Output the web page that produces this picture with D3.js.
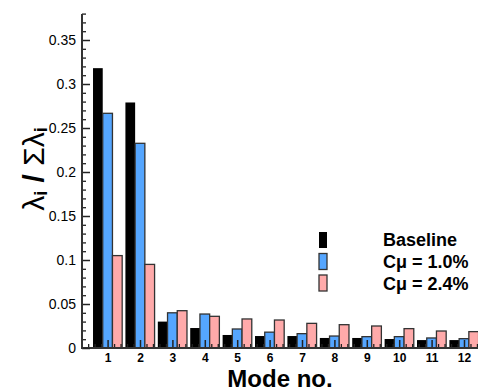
<!DOCTYPE html>
<html>
<head>
<meta charset="utf-8">
<script src="https://cdn.jsdelivr.net/npm/d3@7"></script>
<style>
  body { margin: 0; background: #fff; }
  text { font-family: "Liberation Sans", Arial, sans-serif; }
</style>
</head>
<body>
<div class="chart"></div>
<script>
const modes = [1, 2, 3, 4, 5, 6, 7, 8, 9, 10, 11, 12];
const baseline = [0.318, 0.279, 0.030, 0.0227, 0.0148, 0.0136, 0.0136, 0.0114, 0.0114, 0.0102, 0.009, 0.009];
const cmu10 = [0.2667, 0.2326, 0.040, 0.0386, 0.0216, 0.018, 0.0163, 0.0136, 0.0129, 0.0129, 0.0114, 0.0106];
const cmu24 = [0.105, 0.095, 0.0424, 0.036, 0.033, 0.0318, 0.028, 0.0265, 0.025, 0.022, 0.0193, 0.0186];
const seriesNames = ['Baseline', 'C\u03bc = 1.0%', 'C\u03bc = 2.4%'];
const colors = ['#000000', '#55a6ff', '#ffaaaa'];
const yTicks = [0, 0.05, 0.1, 0.15, 0.2, 0.25, 0.3, 0.35];

const series = [baseline, cmu10, cmu24];

const width = 478, height = 392;
const mLeft = 82, mBottom = 348, mTop = 14;

const svg = d3.select('.chart').append('svg')
    .attr('width', width)
    .attr('height', height);

const x = d3.scaleLinear()
    .domain([0.21, 12.5])
    .range([mLeft, mLeft + 12.29 * 32.4]);

const y = d3.scaleLinear()
    .domain([0, 0.38])
    .range([mBottom, mBottom - 0.38 * 880]);

const bw = 32.4 * 0.3;

// bars
series.forEach((vals, s) => {
    svg.append('g').selectAll('rect')
        .data(vals)
        .enter()
        .append('rect')
        .attr('x', (d, i) => x(modes[i]) - 1.5 * bw + s * bw)
        .attr('y', d => y(d))
        .attr('width', bw)
        .attr('height', d => y(0) - y(d))
        .attr('fill', colors[s])
        .attr('stroke', s === 0 ? 'none' : '#333')
        .attr('stroke-width', 1.3);
});

// x axis: major + minor ticks pointing up
const xMinor = d3.range(0.4, 12.5, 0.2).filter(v => Math.abs(v - Math.round(v)) > 0.01);
svg.append('g')
    .attr('transform', `translate(0,${mBottom})`)
    .call(d3.axisTop(x).tickValues(xMinor).tickSize(4).tickFormat('').tickSizeOuter(0))
    .call(g => g.select('.domain').remove())
    .call(g => g.selectAll('line').attr('stroke', '#222').attr('stroke-width', 1.3));

const xAxis = svg.append('g')
    .attr('transform', `translate(0,${mBottom})`)
    .call(d3.axisTop(x).tickValues(modes).tickSize(8).tickSizeOuter(0).tickFormat(d3.format('d')))
    .call(g => g.select('.domain').remove())
    .call(g => g.selectAll('line').attr('stroke', '#222').attr('stroke-width', 1.5));
xAxis.selectAll('text')
    .attr('y', 13.5)
    .attr('dy', 0)
    .attr('font-size', 12)
    .attr('font-weight', 'bold')
    .attr('fill', '#000')
    .style('font-family', '"Liberation Sans", Arial, sans-serif');

svg.append('line')
    .attr('x1', mLeft).attr('x2', width)
    .attr('y1', mBottom).attr('y2', mBottom)
    .attr('stroke', '#333').attr('stroke-width', 2);

// y axis: ticks pointing right
svg.append('g')
    .attr('transform', `translate(${mLeft},0)`)
    .call(d3.axisRight(y).tickValues(d3.range(0.01, 0.381, 0.01).filter(v => Math.abs(v * 20 - Math.round(v * 20)) > 0.01)).tickSize(4).tickFormat(''))
    .call(g => g.select('.domain').remove())
    .call(g => g.selectAll('line').attr('stroke', '#222').attr('stroke-width', 1.3));

const yAxis = svg.append('g')
    .attr('transform', `translate(${mLeft},0)`)
    .call(d3.axisRight(y).tickValues(yTicks).tickSize(8).tickFormat(d => d === 0 ? '0' : String(d)))
    .call(g => g.select('.domain').remove())
    .call(g => g.selectAll('line').attr('stroke', '#222').attr('stroke-width', 1.5));
yAxis.selectAll('text')
    .attr('x', -6)
    .attr('text-anchor', 'end')
    .attr('font-size', 14)
    .attr('fill', '#000')
    .style('font-family', '"Liberation Sans", Arial, sans-serif');

svg.append('line')
    .attr('x1', mLeft).attr('x2', mLeft)
    .attr('y1', mTop).attr('y2', mBottom + 1)
    .attr('stroke', '#333').attr('stroke-width', 2);

// axis titles
svg.append('text')
    .attr('x', 280)
    .attr('y', 387)
    .attr('text-anchor', 'middle')
    .attr('font-size', 24)
    .attr('font-weight', 'bold')
    .text('Mode no.');

const yTitle = svg.append('text')
    .attr('transform', 'translate(44,169) rotate(-90)')
    .attr('text-anchor', 'middle')
    .attr('font-size', 30);
yTitle.append('tspan').text('\u03bb');
yTitle.append('tspan').attr('font-size', 18).attr('font-weight', 'bold').attr('dy', 3).text('i');
yTitle.append('tspan').attr('dy', -3).attr('font-weight', 'bold').text(' / ');
yTitle.append('tspan').text('\u03a3\u03bb');
yTitle.append('tspan').attr('font-size', 18).attr('font-weight', 'bold').attr('dy', 3).text('i');

// legend
const legend = svg.append('g');
legend.selectAll('rect')
    .data(seriesNames)
    .enter()
    .append('rect')
    .attr('x', 319)
    .attr('y', (d, i) => 232 + i * 21.5)
    .attr('width', 8)
    .attr('height', 16)
    .attr('fill', (d, i) => colors[i])
    .attr('stroke', (d, i) => i === 0 ? 'none' : '#333')
    .attr('stroke-width', 1.3);

legend.selectAll('text')
    .data(seriesNames)
    .enter()
    .append('text')
    .attr('x', 383)
    .attr('y', (d, i) => 246 + i * 22)
    .attr('font-size', 18)
    .attr('font-weight', 'bold')
    .text(d => d);
</script>
</body>
</html>
